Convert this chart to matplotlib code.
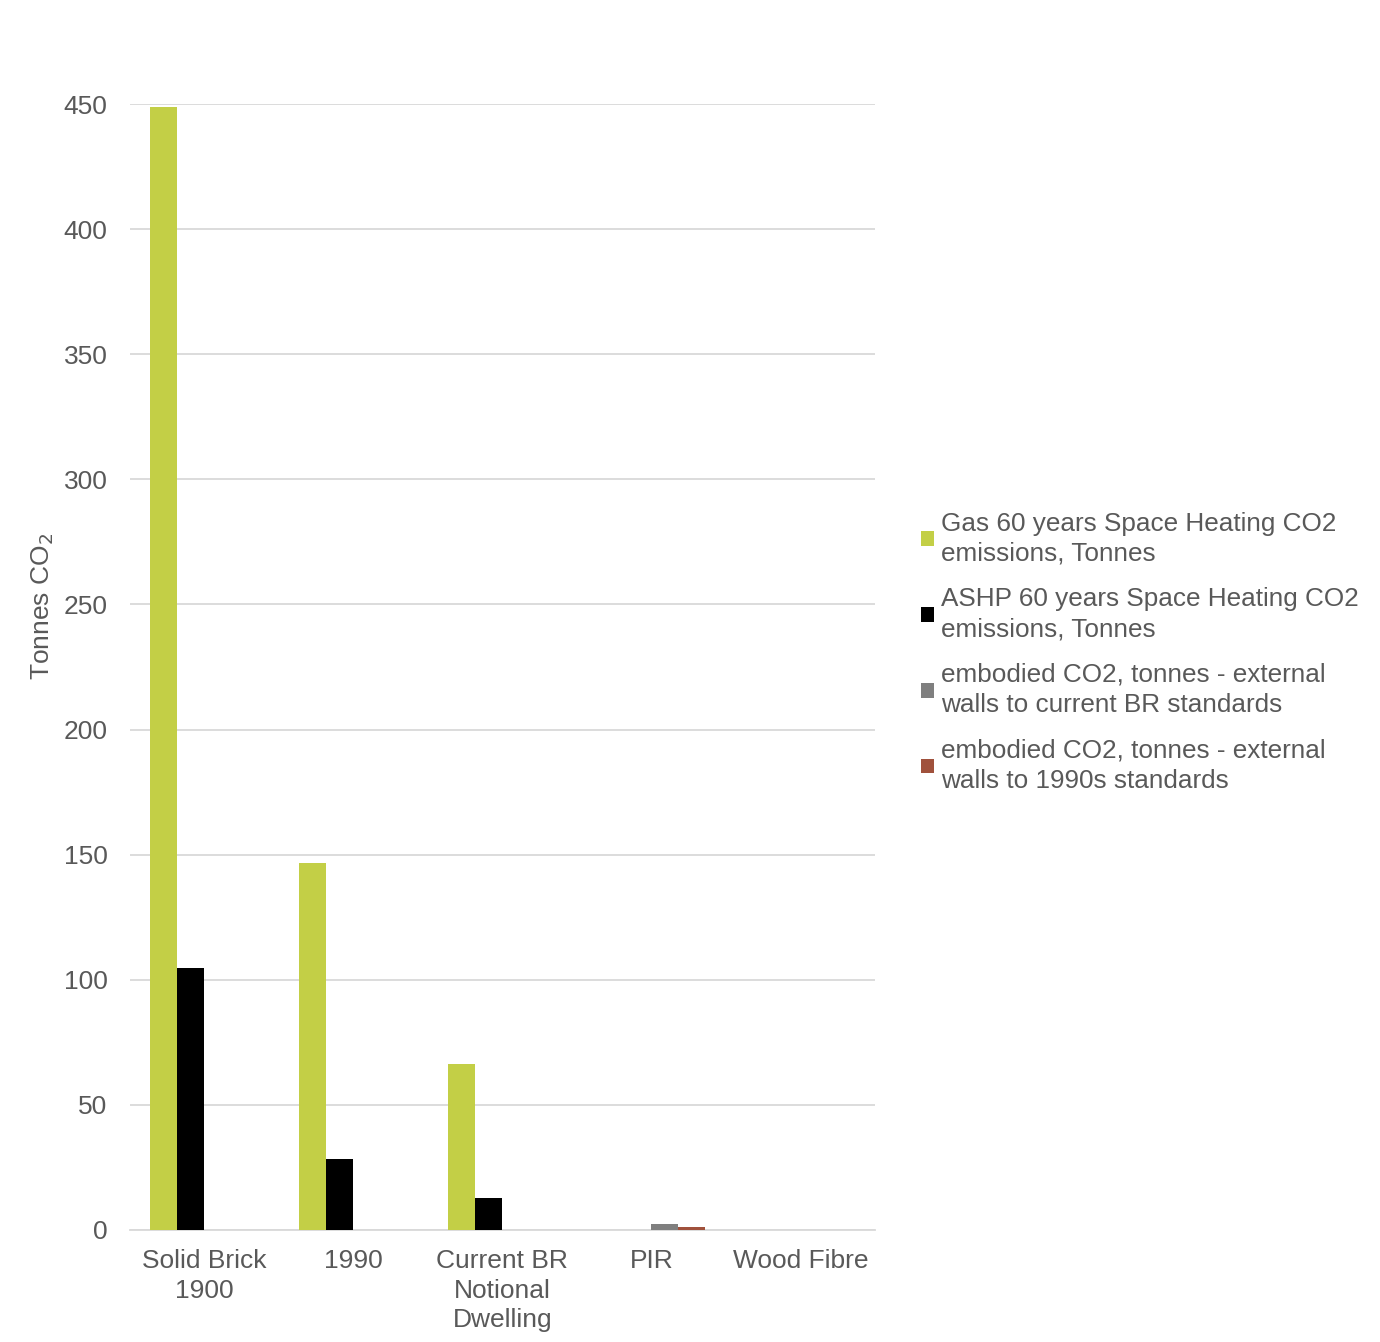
import numpy as np
import matplotlib.pyplot as plt

plt.rcParams["font.family"] = ["Liberation Sans", "DejaVu Sans"]

categories = ["Solid Brick\n1900", "1990", "Current BR\nNotional\nDwelling", "PIR", "Wood Fibre"]
series_names = [
    "Gas 60 years Space Heating CO2\nemissions, Tonnes",
    "ASHP 60 years Space Heating CO2\nemissions, Tonnes",
    "embodied CO2, tonnes - external\nwalls to current BR standards",
    "embodied CO2, tonnes - external\nwalls to 1990s standards",
]
gas = [449, 146.5, 66.5, 0, 0]
ashp = [104.8, 28.4, 12.8, 0, 0]
embodied_br = [0, 0, 0, 2.2, 0]
embodied_1990 = [0, 0, 0, 1.0, 0]
colors = ["#c3cf46", "#000000", "#7f7f7f", "#a0513c"]

text_grey = "#595959"

fig = plt.figure(figsize=(13.8, 13.42), dpi=100)
ax = fig.add_axes([0.094, 0.0835, 0.54, 0.839])

x = np.arange(len(categories))
width = 0.181
all_series = [gas, ashp, embodied_br, embodied_1990]
for i, (vals, name, c) in enumerate(zip(all_series, series_names, colors)):
    ax.bar(x + (i - 1.5) * width, vals, width, color=c, label=name, zorder=3)

ax.set_xlim(-0.5, len(categories) - 0.5)
ax.set_ylim(0, 450)
ax.set_yticks(np.arange(0, 451, 50))
ax.set_xticks(x)
ax.set_xticklabels(categories, fontsize=19, color=text_grey, linespacing=1.27)
ax.tick_params(axis="y", labelsize=19, labelcolor=text_grey, length=0, pad=16)
ax.tick_params(axis="x", length=0, pad=14)
ax.grid(axis="y", color="#d9d9d9", linewidth=1.3, zorder=0)
for s in ["top", "right", "left"]:
    ax.spines[s].set_visible(False)
ax.spines["bottom"].set_color("#d9d9d9")
ax.spines["bottom"].set_linewidth(1.3)

ax.set_ylabel("Tonnes CO$_2$", fontsize=19, color=text_grey)
ax.yaxis.set_label_coords(-0.099, 0.554)

handles, labels = ax.get_legend_handles_labels()
leg = fig.legend(handles, labels, loc="center left", bbox_to_anchor=(0.650, 0.514),
                 frameon=False, fontsize=18.8, labelcolor=text_grey,
                 handlelength=0.5, handleheight=0.5, handletextpad=0.3,
                 labelspacing=0.82)
for t in leg.get_texts():
    t.set_linespacing(1.33)

fig.savefig("out.png", dpi=100, facecolor="white")
